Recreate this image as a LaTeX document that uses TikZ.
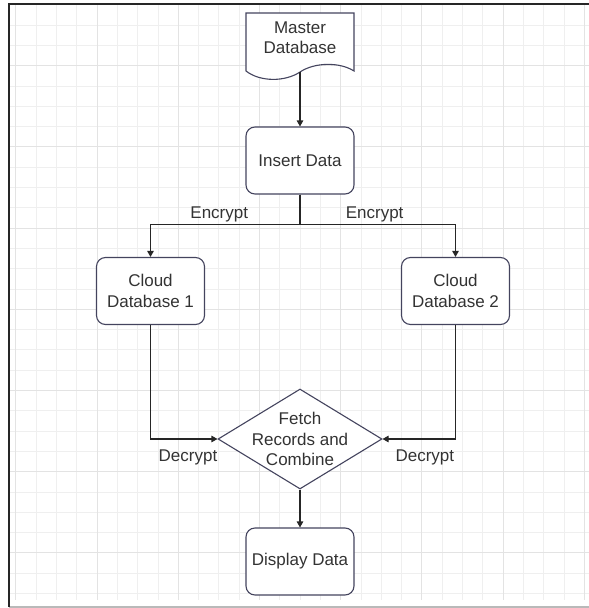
\documentclass[tikz,border=0pt]{standalone}
\usepackage{fontspec}
\setmainfont{Liberation Sans}
\usetikzlibrary{arrows.meta,shapes.geometric}

\definecolor{boxline}{HTML}{44445E}
\definecolor{txt}{HTML}{333333}
\definecolor{gridminor}{HTML}{EFEFEF}
\definecolor{gridmajor}{HTML}{E3E3E3}

\tikzset{
  label text/.style={font=\fontsize{17}{20.5}\selectfont, text=txt},
  process/.style={draw=boxline, fill=white, line width=1.1pt, rounded corners=9pt,
    minimum width=108pt, minimum height=67pt, align=center, label text},
  decision/.style={diamond, draw=boxline, fill=white, line width=1.1pt,
    minimum width=164pt, minimum height=100pt, aspect=1.64, inner sep=0pt},
  flow/.style={draw=black!85, line width=1.1pt, -{Triangle[length=6pt,width=6.5pt]}},
  edge text/.style={label text, inner sep=2pt},
}

\begin{document}
\begin{tikzpicture}[x=1pt,y=-1pt]
\useasboundingbox (0,0) rectangle (589,608);
% background grid, darker line every fourth cell
\foreach \k in {0,...,28} \draw[gridminor, line width=0.8pt] (15.8+20.3*\k,4) -- (15.8+20.3*\k,600);
\foreach \k in {1,...,29} \draw[gridminor, line width=0.8pt] (9,4.7+20.3*\k) -- (589,4.7+20.3*\k);
\foreach \k in {0,4,...,28} \draw[gridmajor, line width=0.8pt] (15.8+20.3*\k,4) -- (15.8+20.3*\k,600);
\foreach \k in {3,7,...,27} \draw[gridmajor, line width=0.8pt] (9,4.7+20.3*\k) -- (589,4.7+20.3*\k);
% frame
\draw[gray!55, line width=2pt] (9,607) -- (589,607);
\draw[black!85, line width=2pt] (9,607) -- (9,4) -- (589,4);

% document shape with wavy bottom
\draw[draw=boxline, fill=white, line width=1.1pt] (246,71) -- (246,13) -- (354,13) -- (354,71)
  .. controls (340,62) and (315,62) .. (300,72) .. controls (285,82) and (260,82) .. (246,71) -- cycle;
\node[label text, align=center] (master) at (300,37.5) {Master\\Database};
\coordinate (masterfoot) at (300,72);

\node[process] (insert) at (300,160.5) {Insert Data};
\node[process] (cloud1) at (150.5,291) {Cloud\\Database 1};
\node[process] (cloud2) at (455.5,291) {Cloud\\Database 2};
\node[decision, label={[label text, align=center]center:Fetch\\Records and\\Combine}] (fetch) at (300,439) {};
\node[process] (display) at (300,561.5) {Display Data};

\draw[flow] (masterfoot) -- (insert.north);
\draw[flow] (insert.south) -- ++(0,30) -| node[pos=0.27, above, edge text] {Encrypt} (cloud1.north);
\draw[flow] (insert.south) -- ++(0,30) -| node[pos=0.24, above, edge text] {Encrypt} (cloud2.north);
\draw[flow] (cloud1.south) |- node[pos=0.78, below=8pt, edge text] {Decrypt} (fetch.west);
\draw[flow] (cloud2.south) |- node[pos=0.71, below=8pt, edge text] {Decrypt} (fetch.east);
\draw[flow] (fetch.south) -- (display.north);
\end{tikzpicture}
\end{document}
